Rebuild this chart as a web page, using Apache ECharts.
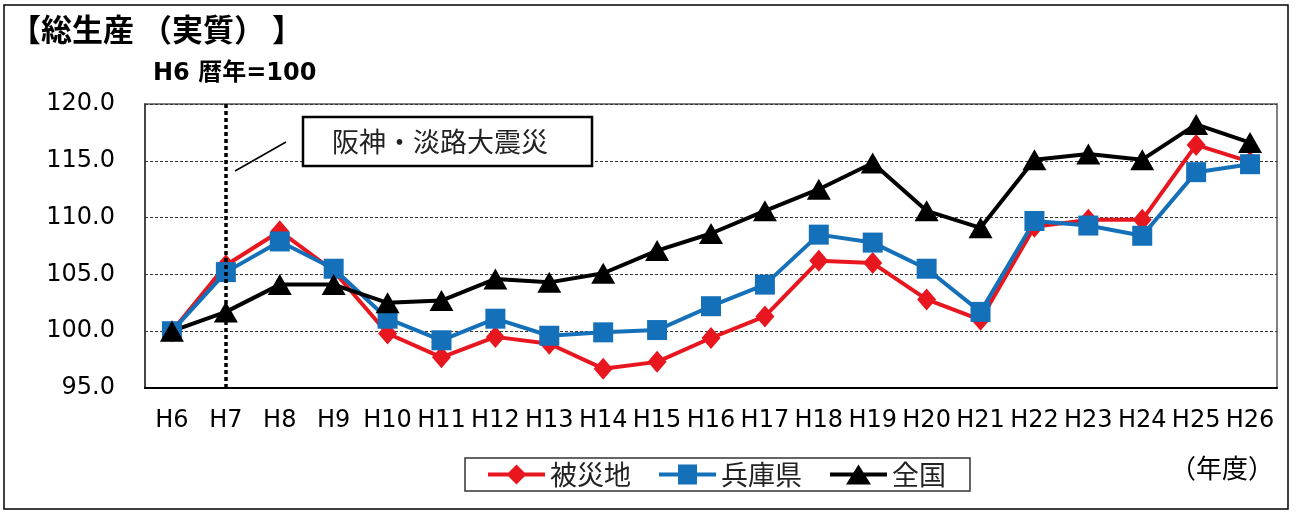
<!DOCTYPE html>
<html>
<head>
<meta charset="utf-8">
<script src="https://cdn.jsdelivr.net/npm/echarts@6/dist/echarts.min.js"></script>
<style>
html,body{margin:0;padding:0;background:#fff;}
#chart{width:1296px;height:513px;}
</style>
</head>
<body>
<div id="chart"></div>
<script>
const categories = ['H6','H7','H8','H9','H10','H11','H12','H13','H14','H15','H16','H17','H18','H19','H20','H21','H22','H23','H24','H25','H26'];
const hisaichi = [100, 105.8, 108.8, 105.3, 99.8, 97.7, 99.5, 98.9, 96.7, 97.3, 99.4, 101.3, 106.2, 106.0, 102.8, 101.0, 109.2, 109.8, 109.8, 116.4, 114.9];
const hyogo = [100, 105.2, 107.9, 105.5, 101.1, 99.2, 101.1, 99.6, 99.9, 100.1, 102.2, 104.1, 108.5, 107.8, 105.5, 101.7, 109.7, 109.3, 108.4, 114.0, 114.7];
const zenkoku = [100, 101.7, 104.1, 104.1, 102.5, 102.7, 104.6, 104.3, 105.1, 107.1, 108.6, 110.6, 112.5, 114.8, 110.6, 109.1, 115.1, 115.6, 115.1, 118.2, 116.6];
const seriesNames = ['被災地', '兵庫県', '全国'];
const yTicks = {min: 95, max: 120, interval: 5};
const eventCategory = 'H7';
const eventLabel = '阪神・淡路大震災';

const LATIN = "'DejaVu Sans', 'Noto Sans CJK JP', sans-serif";
const CJK = "'Noto Sans CJK JP', sans-serif";

const ICON_DIAMOND = 'path://M0,8 L20.5,8 L28.5,0 L36.5,8 L57,8 L57,12 L36.5,12 L28.5,20 L20.5,12 L0,12 Z';
const ICON_SQUARE = 'path://M0,8 L19,8 L19,0 L38,0 L38,8 L57,8 L57,12 L38,12 L38,20 L19,20 L19,12 L0,12 Z';
const ICON_TRIANGLE = 'path://M0,8 L23.5,8 L28.5,0 L33.5,8 L57,8 L57,12 L36,12 L41,20 L16,20 L21,12 L0,12 Z';

const chart = echarts.init(document.getElementById('chart'));
chart.setOption({
  animation: false,
  backgroundColor: '#fff',
  grid: {left: 145, right: 19, top: 104, bottom: 125, show: true, borderColor: '#808080', borderWidth: 2},
  legend: {
    left: 465, top: 458,
    itemWidth: 57, itemHeight: 20, itemGap: 28,
    padding: [3, 24, 3, 23],
    borderColor: '#333', borderWidth: 1.5,
    textStyle: {fontFamily: CJK, fontSize: 27, color: '#222'},
    data: [
      {name: seriesNames[0], icon: ICON_DIAMOND},
      {name: seriesNames[1], icon: ICON_SQUARE},
      {name: seriesNames[2], icon: ICON_TRIANGLE}
    ]
  },
  xAxis: {
    type: 'category', data: categories, boundaryGap: true,
    axisLine: {lineStyle: {color: '#000', width: 2}},
    axisTick: {inside: true, length: 8, lineStyle: {color: '#000', width: 1.5}},
    axisLabel: {fontFamily: LATIN, fontSize: 24, color: '#000', margin: 21, interval: 0}
  },
  yAxis: {
    type: 'value', min: yTicks.min, max: yTicks.max, interval: yTicks.interval,
    axisLine: {show: true, lineStyle: {color: '#333', width: 1.5}},
    axisTick: {show: false},
    axisLabel: {fontFamily: LATIN, fontSize: 24, color: '#000', margin: 30, formatter: v => v.toFixed(1)},
    splitLine: {show: true, lineStyle: {color: '#333', width: 1, type: [3, 2]}}
  },
  series: [
    {
      name: seriesNames[0], type: 'line', data: hisaichi,
      symbol: 'diamond', symbolSize: [19, 22], color: '#e8171f',
      lineStyle: {width: 4, color: '#e8171f'},
      itemStyle: {color: '#e8171f'},
      markLine: {
        silent: true, symbol: ['none', 'none'],
        label: {show: false},
        lineStyle: {color: '#000', width: 3.5, type: [4, 3]},
        data: [{xAxis: eventCategory}]
      }
    },
    {
      name: seriesNames[1], type: 'line', data: hyogo,
      symbol: 'rect', symbolSize: 20, color: '#1570ba',
      lineStyle: {width: 4, color: '#1570ba'},
      itemStyle: {color: '#1570ba'}
    },
    {
      name: seriesNames[2], type: 'line', data: zenkoku,
      symbol: 'triangle', symbolSize: [24, 21], color: '#000',
      lineStyle: {width: 4, color: '#000'},
      itemStyle: {color: '#000'}
    }
  ],
  graphic: [
    {type: 'rect', shape: {x: 4, y: 5, width: 1284, height: 504}, style: {fill: 'none', stroke: '#000', lineWidth: 1.5}, silent: true},
    {type: 'text', left: 10, top: 14, style: {text: '【総生産 （実質） 】', font: "bold 31px 'Noto Sans CJK JP'", fill: '#000'}},
    {type: 'text', left: 153, top: 62, style: {text: 'H6 暦年=100', font: "bold 24px 'DejaVu Sans', 'Noto Sans CJK JP'", fill: '#000'}},
    {type: 'rect', shape: {x: 303, y: 117, width: 289, height: 49}, style: {fill: '#fff', stroke: '#000', lineWidth: 2.5}, z: 10},
    {type: 'text', x: 440, y: 142, style: {text: eventLabel, font: "27px 'Noto Sans CJK JP'", fill: '#222', align: 'center', verticalAlign: 'middle'}, z: 11},
    {type: 'line', shape: {x1: 235, y1: 171, x2: 286, y2: 142}, style: {stroke: '#000', lineWidth: 1.5}, z: 10},
    {type: 'text', x: 1222, y: 468, style: {text: '（年度）', font: "26px 'Noto Sans CJK JP'", fill: '#000', align: 'center', verticalAlign: 'middle'}}
  ]
});
</script>
</body>
</html>
